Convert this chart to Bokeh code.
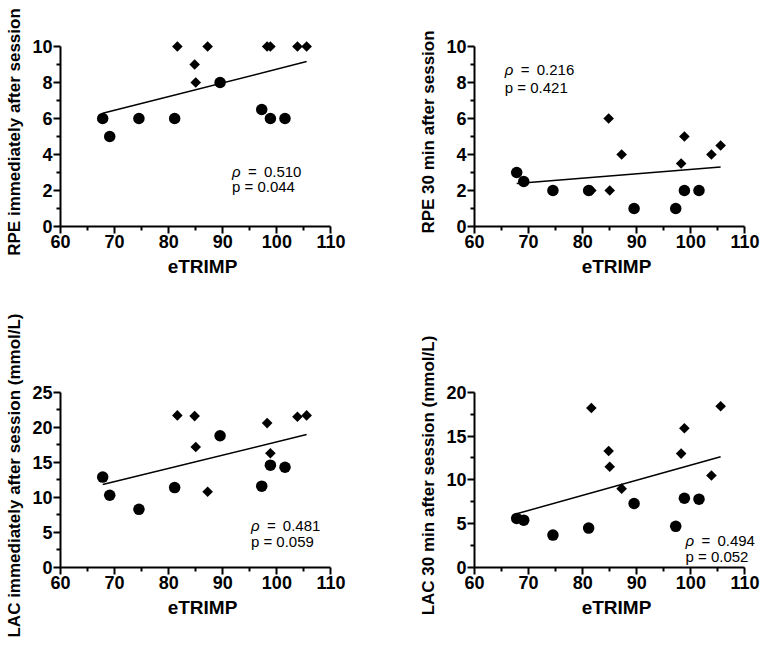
import numpy as np
from bokeh.plotting import figure
from bokeh.layouts import row, column
from bokeh.models import Range1d, FixedTicker, Label
from bokeh.embed import file_html
from bokeh.resources import INLINE

# ---- data ----
etrimp_circle = [67.8, 69.1, 74.5, 81.1, 89.5, 97.2, 98.8, 101.5]
etrimp_diamond = [81.6, 84.8, 85.0, 87.2, 98.2, 98.8, 103.8, 105.5]

rpe_post_circle = [6, 5, 6, 6, 8, 6.5, 6, 6]
rpe_post_diamond = [10, 9, 8, 10, 10, 10, 10, 10]
rpe_30_circle = [3, 2.5, 2, 2, 1, 1, 2, 2]
rpe_30_diamond = [2, 6, 2, 4, 3.5, 5, 4, 4.5]
lac_post_circle = [12.9, 10.3, 8.3, 11.4, 18.8, 11.6, 14.6, 14.3]
lac_post_diamond = [21.7, 21.6, 17.2, 10.8, 20.6, 16.3, 21.5, 21.7]
lac_30_circle = [5.6, 5.4, 3.7, 4.5, 7.3, 4.7, 7.9, 7.8]
lac_30_diamond = [18.2, 13.3, 11.5, 9.0, 13.0, 15.9, 10.5, 18.4]

x_ticks = [60, 70, 80, 90, 100, 110]
x_minor = [65, 75, 85, 95, 105]
y_ticks_rpe = [0, 2, 4, 6, 8, 10]
y_minor_rpe = [1, 3, 5, 7, 9]
y_ticks_lac_post = [0, 5, 10, 15, 20, 25]
y_ticks_lac_30 = [0, 5, 10, 15, 20]
y_minor_lac = [2.5, 7.5, 12.5, 17.5, 22.5]

y_labels = ["RPE immediately after session", "RPE 30 min after session",
            "LAC immediately after session (mmol/L)", "LAC 30 min after session (mmol/L)"]
x_label = "eTRIMP"
rho_values = ["0.510", "0.216", "0.481", "0.494"]
p_values = ["0.044", "0.421", "0.059", "0.052"]

FONT = "Liberation Sans"


def panel(width, height, left, right, top, bottom, ylabel, yticks, yminor,
          yc, yd, tx, ty1, ty2, rho, pv):
    ymax = yticks[-1]
    p = figure(width=width, height=height, output_backend="svg", toolbar_location=None,
               x_range=Range1d(60, 112.5), y_range=Range1d(0, ymax * 1.05),
               min_border_left=left, min_border_right=right,
               min_border_top=top, min_border_bottom=bottom)
    p.outline_line_color = None
    p.xgrid.visible = False
    p.ygrid.visible = False
    p.background_fill_color = "white"
    p.border_fill_color = "white"

    for ax, ticks, minor, lab, lsize in ((p.xaxis[0], x_ticks, x_minor, x_label, "19px"),
                                        (p.yaxis[0], yticks, yminor, ylabel, "17px")):
        ax.ticker = FixedTicker(ticks=ticks, minor_ticks=minor)
        ax.axis_line_width = 2
        ax.axis_line_color = "black"
        ax.major_tick_line_width = 2
        ax.minor_tick_line_width = 2
        ax.major_tick_line_color = "black"
        ax.minor_tick_line_color = "black"
        ax.major_tick_in = 0
        ax.major_tick_out = 7
        ax.minor_tick_in = 0
        ax.minor_tick_out = 4
        ax.major_label_text_font = FONT
        ax.major_label_text_font_style = "bold"
        ax.major_label_text_font_size = "18px"
        ax.major_label_text_color = "black"
        ax.major_label_standoff = 1
        ax.axis_label = lab
        ax.axis_label_text_font = FONT
        ax.axis_label_text_font_style = "bold"
        ax.axis_label_text_font_size = lsize
        ax.axis_label_text_color = "black"
        ax.axis_label_standoff = 5
    p.xaxis[0].bounds = (60, 110)
    p.yaxis[0].bounds = (0, ymax)

    # linear regression over all points
    xa = np.array(etrimp_circle + etrimp_diamond)
    ya = np.array(yc + yd)
    k, b = np.polyfit(xa, ya, 1)
    xl = np.array([xa.min(), xa.max()])
    p.line(xl, k * xl + b, line_color="black", line_width=1.5)

    p.scatter(etrimp_circle, yc, marker="circle", size=11.5, fill_color="black", line_color=None)
    p.scatter(etrimp_diamond, yd, marker="square", angle=np.pi / 4, size=7.5,
              fill_color="black", line_color=None)

    common = dict(text_font=FONT, text_font_size="15px", text_color="black",
                  text_baseline="alphabetic", text_align="left")
    p.add_layout(Label(x=tx, y=ty1, text="\u03c1", text_font_style="italic", **common))
    p.add_layout(Label(x=tx, y=ty1, x_offset=16, text="=\u2009 " + rho, **common))
    p.add_layout(Label(x=tx, y=ty2, text="p = " + pv, **common))
    return p


p1 = panel(390, 314, 60, 46, 37, 88, y_labels[0], y_ticks_rpe, y_minor_rpe,
           rpe_post_circle, rpe_post_diamond, 91.7, 3.07, 2.24, rho_values[0], p_values[0])
p2 = panel(377, 314, 84, 9, 37, 88, y_labels[1], y_ticks_rpe, y_minor_rpe,
           rpe_30_circle, rpe_30_diamond, 65.6, 8.72, 7.74, rho_values[1], p_values[1])
p3 = panel(390, 334, 60, 46, 69, 76, y_labels[2], y_ticks_lac_post, y_minor_lac,
           lac_post_circle, lac_post_diamond, 95.2, 6.02, 3.7, rho_values[2], p_values[2])
p4 = panel(377, 334, 84, 9, 64, 81, y_labels[3], y_ticks_lac_30, y_minor_lac[:4],
           lac_30_circle, lac_30_diamond, 99.0, 3.12, 1.26, rho_values[3], p_values[3])

layout = column(row(p1, p2), row(p3, p4))
open("out.html", "w").write(file_html(layout, INLINE))
